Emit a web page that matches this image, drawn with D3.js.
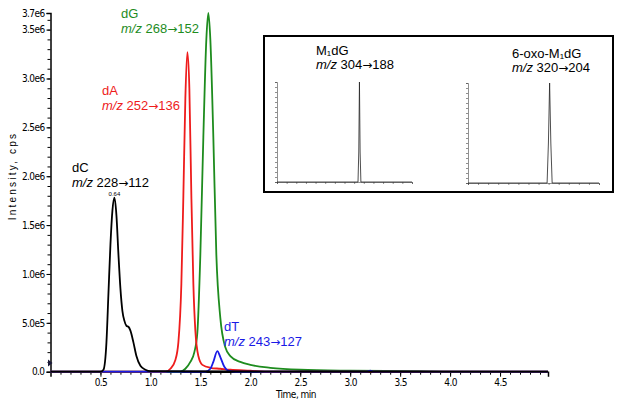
<!DOCTYPE html>
<html>
<head>
<meta charset="utf-8">
<script src="https://cdn.jsdelivr.net/npm/d3@7"></script>
<style>
  body { margin: 0; background: #fff; }
  .tick text { font-family: "Liberation Sans Narrow", "DejaVu Sans Condensed", sans-serif; font-size: 10px; letter-spacing: -0.6px; }
  .ann { font-family: "Liberation Sans", Arial, sans-serif; font-size: 13px; }
  .arrow { font-family: "DejaVu Sans", sans-serif; font-size: 12px; }
</style>
</head>
<body>
<div id="chart"></div>
<script>
var width = 624,
    height = 408;

// time (min) and intensity (cps)
var dC_t = [0, 0.50, 0.53, 0.56, 0.58, 0.60, 0.62, 0.64, 0.66, 0.68, 0.70, 0.72, 0.74, 0.76, 0.78, 0.80, 0.83, 0.86, 0.90, 0.95, 1.00, 4.98];
var dC_y = [0, 0, 0.02e6, 0.3e6, 0.8e6, 1.3e6, 1.65e6, 1.78e6, 1.6e6, 1.2e6, 0.85e6, 0.62e6, 0.52e6, 0.47e6, 0.46e6, 0.42e6, 0.3e6, 0.16e6, 0.06e6, 0.02e6, 0.005e6, 0];

var dA_t = [0, 1.15, 1.20, 1.25, 1.28, 1.31, 1.33, 1.35, 1.37, 1.39, 1.41, 1.43, 1.45, 1.48, 1.52, 1.60, 1.70, 1.80, 2.00, 2.20, 4.98];
var dA_y = [0, 0, 0.03e6, 0.12e6, 0.3e6, 0.9e6, 1.8e6, 2.8e6, 3.27e6, 2.9e6, 1.8e6, 0.9e6, 0.42e6, 0.16e6, 0.07e6, 0.04e6, 0.03e6, 0.02e6, 0.01e6, 0, 0];

var dG_t = [0, 1.30, 1.35, 1.40, 1.44, 1.47, 1.50, 1.53, 1.56, 1.58, 1.60, 1.63, 1.66, 1.70, 1.75, 1.80, 1.90, 2.00, 2.20, 2.50, 3.00, 3.70, 4.00, 4.98];
var dG_y = [0, 0, 0.03e6, 0.1e6, 0.2e6, 0.4e6, 1.2e6, 2.4e6, 3.4e6, 3.67e6, 3.4e6, 2.4e6, 1.2e6, 0.55e6, 0.25e6, 0.16e6, 0.1e6, 0.07e6, 0.04e6, 0.02e6, 0.01e6, 0.005e6, 0, 0];

var dT_t = [0, 1.55, 1.60, 1.63, 1.67, 1.70, 1.74, 1.78, 1.85, 3.17, 3.20, 3.23, 4.98];
var dT_y = [0, 0, 0.03e6, 0.1e6, 0.21e6, 0.15e6, 0.05e6, 0.01e6, 0, 0, 0.012e6, 0, 0];

var yTickValues = [0, 0.5e6, 1.0e6, 1.5e6, 2.0e6, 2.5e6, 3.0e6, 3.5e6, 3.67e6];
var yTickLabels = ["0.0", "5.0e5", "1.0e6", "1.5e6", "2.0e6", "2.5e6", "3.0e6", "3.5e6", "3.7e6"];
var xTickValues = [0.5, 1.0, 1.5, 2.0, 2.5, 3.0, 3.5, 4.0, 4.5];
var xTickLabels = ["0.5", "1.0", "1.5", "2.0", "2.5", "3.0", "3.5", "4.0", "4.5"];

// inset traces (normalised)
var m1_t = [0, 8.40, 8.48, 8.55, 8.62, 8.70, 14];
var m1_y = [0, 0, 0.3, 1.0, 0.3, 0, 0];
var oxo_t = [0, 7.85, 7.98, 8.10, 8.22, 8.35, 13];
var oxo_y = [0, 0, 0.4, 1.0, 0.4, 0, 0];

var svg = d3.select("#chart").append("svg")
    .attr("width", width)
    .attr("height", height);

var x = d3.scaleLinear().domain([0, 4.98]).range([50.5, 548]);
var y = d3.scaleLinear().domain([0, 3.67e6]).range([371.7, 13]);

function zipped(t, v) { return t.map(function(d, i){ return [d, v[i]]; }); }

var line = d3.line()
    .x(function(d){ return x(d[0]); })
    .y(function(d){ return y(d[1]); })
    .curve(d3.curveMonotoneX);

/* -----------------AXES----------------- */
var yMinor = d3.range(1, 37).map(function(i){ return i * 0.1e6; });
svg.append("g")
    .attr("transform", "translate(50.5,0)")
    .call(d3.axisLeft(y).tickValues(yMinor).tickSize(3).tickFormat(""))
    .call(function(g){ g.select(".domain").remove(); })
    .selectAll("line").attr("stroke", "#000");

svg.append("g")
    .attr("transform", "translate(50.5,0)")
    .call(d3.axisLeft(y).tickValues(yTickValues).tickSize(4).tickPadding(2)
      .tickFormat(function(d, i){ return yTickLabels[i]; }))
    .call(function(g){
      g.select(".domain").attr("stroke", "#000").attr("stroke-width", 1.5);
    });

var xMinor = d3.range(1, 50).map(function(i){ return i * 0.1; });
svg.append("g")
    .attr("transform", "translate(0,371.7)")
    .call(d3.axisBottom(x).tickValues(xMinor).tickSize(3).tickFormat(""))
    .call(function(g){ g.select(".domain").remove(); });

svg.append("g")
    .attr("transform", "translate(0,371.7)")
    .call(d3.axisBottom(x).tickValues(xTickValues).tickSize(5).tickPadding(2)
      .tickFormat(function(d, i){ return xTickLabels[i]; }))
    .call(function(g){
      g.select(".domain").attr("stroke", "#000").attr("stroke-width", 1.5);
    });

svg.append("text")
    .attr("transform", "translate(16,176) rotate(-90)")
    .attr("text-anchor", "middle")
    .style("font-family", "Liberation Sans, Arial, sans-serif")
    .style("font-size", "10px")
    .style("letter-spacing", "2.2px")
    .text("Intensity, cps");

svg.append("text")
    .attr("x", 296).attr("y", 398)
    .attr("text-anchor", "middle")
    .style("font-family", "Liberation Sans Narrow, DejaVu Sans Condensed, sans-serif")
    .style("font-size", "10px")
    .style("letter-spacing", "-0.5px")
    .text("Time, min");

// little marker on the y axis
svg.append("path")
    .attr("d", "M48,359.5 L52.5,363 L48,366.5 Z")
    .attr("fill", "#1a1a3a");

/* -----------------TRACES----------------- */
var traces = [
  {t: dG_t, v: dG_y, color: "#1e8c1e"},
  {t: dA_t, v: dA_y, color: "#ee1c1c"},
  {t: dT_t, v: dT_y, color: "#1a1ae6"},
  {t: dC_t, v: dC_y, color: "#000"}
];

svg.selectAll(".trace")
    .data(traces)
  .enter().append("path")
    .attr("class", "trace")
    .attr("d", function(d){ return line(zipped(d.t, d.v)); })
    .attr("fill", "none")
    .attr("stroke", function(d){ return d.color; })
    .attr("stroke-width", 1.8);

/* -----------------LABELS----------------- */
function mzLine(g, xp, yp, mz1, mz2) {
  var t = g.append("text").attr("x", xp).attr("y", yp);
  t.append("tspan").style("font-style", "italic").text("m/z");
  t.append("tspan").text(" " + mz1);
  t.append("tspan").attr("class", "arrow").text("\u2192");
  t.append("tspan").text(mz2);
}

function annotate(xp, yp, name, mz1, mz2, color) {
  var g = svg.append("g").attr("class", "ann").attr("fill", color);
  g.append("text").attr("x", xp).attr("y", yp).text(name);
  mzLine(g, xp, yp + 15, mz1, mz2);
}
annotate(121, 18, "dG", 268, 152, "#1e8c1e");
annotate(102, 95, "dA", 252, 136, "#ee1c1c");
annotate(72, 172, "dC", 228, 112, "#000");
annotate(224, 331, "dT", 243, 127, "#1a1ae6");

svg.append("text")
    .attr("x", x(0.64)).attr("y", 196)
    .attr("text-anchor", "middle")
    .style("font-family", "Liberation Sans Narrow, sans-serif")
    .style("font-size", "6px")
    .text("0.64");

/* -----------------INSET----------------- */
svg.append("rect")
    .attr("x", 264).attr("y", 36)
    .attr("width", 349).attr("height", 156)
    .attr("fill", "none")
    .attr("stroke", "#000")
    .attr("stroke-width", 2);

function mini(x0, x1, y0, y1, tmax, t, v, title, mz1, mz2, lx, ly) {
  var mx = d3.scaleLinear().domain([0, tmax]).range([x0, x1]);
  var my = d3.scaleLinear().domain([0, 1]).range([y1, y0]);
  var g = svg.append("g");
  g.append("g")
      .attr("transform", "translate(" + x0 + ",0)")
      .call(d3.axisLeft(my).ticks(20).tickSize(2).tickFormat(""))
      .call(function(a){ a.selectAll("line,path").attr("stroke", "#444").attr("stroke-width", 0.6); });
  g.append("g")
      .attr("transform", "translate(0," + y1 + ")")
      .call(d3.axisBottom(mx).ticks(tmax).tickSize(2).tickFormat(""))
      .call(function(a){ a.selectAll("line,path").attr("stroke", "#444").attr("stroke-width", 0.6); });
  g.append("path")
      .attr("d", d3.line()
        .x(function(d){ return mx(d[0]); })
        .y(function(d){ return my(d[1]); })(zipped(t, v)))
      .attr("fill", "none")
      .attr("stroke", "#222")
      .attr("stroke-width", 0.8);
  var ann = svg.append("g").attr("class", "ann").attr("fill", "#000");
  ann.append("text").attr("x", lx).attr("y", ly).text(title);
  mzLine(ann, lx, ly + 14, mz1, mz2);
}
mini(277, 412, 82, 182, 14, m1_t, m1_y, "M\u2081dG", 304, 188, 316, 55);
mini(468, 599, 83, 183, 13, oxo_t, oxo_y, "6-oxo-M\u2081dG", 320, 204, 512, 58);
</script>
</body>
</html>
